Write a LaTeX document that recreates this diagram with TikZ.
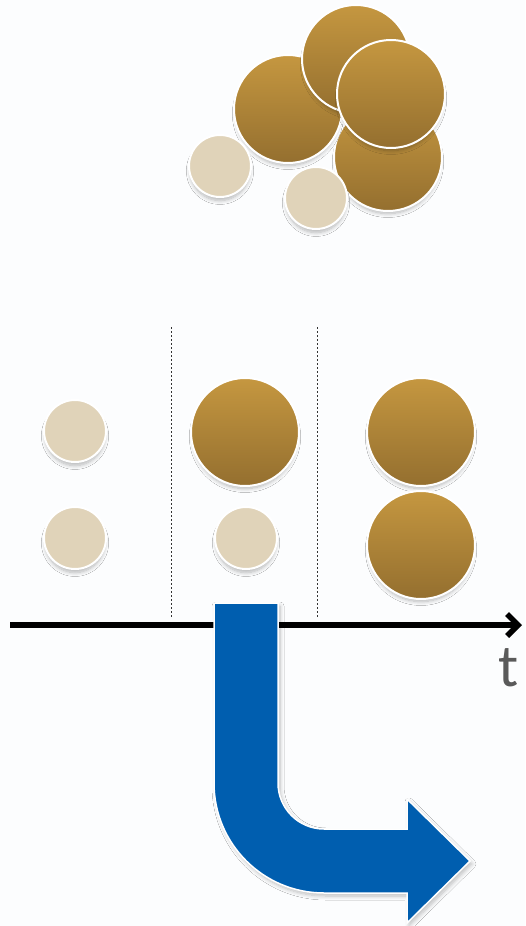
\documentclass[tikz,border=0pt]{standalone}
\usepackage{fontspec}
\setmainfont{Carlito}
\usetikzlibrary{arrows.meta,shadows.blur}

\definecolor{sand}{RGB}{224,211,185}
\definecolor{ochretop}{RGB}{197,151,64}
\definecolor{ochrebot}{RGB}{148,111,47}
\definecolor{flowblue}{RGB}{0,94,175}
\definecolor{labelgray}{RGB}{90,90,90}
\definecolor{paper}{RGB}{252,253,254}

\begin{document}
\begin{tikzpicture}[x=1pt,y=-1pt,
		ball/.style={circle,draw=white,line width=2pt,inner sep=0pt,
			blur shadow={shadow xshift=0pt,shadow yshift=-5pt,shadow scale=0.96,
				shadow blur radius=4pt,shadow blur steps=8,shadow opacity=28}},
		smallball/.style={ball,fill=sand,minimum size=62pt},
		bigball/.style={ball,top color=ochretop,bottom color=ochrebot,minimum size=108pt},
		divider/.style={dash pattern=on 2pt off 2pt,line width=0.8pt,black!80},
		timeaxis/.style={line width=5.5pt,-{Straight Barb[length=11pt,width=22pt]}}]

		\useasboundingbox (0,0) rectangle (525,926);
		\fill[paper] (0,0) rectangle (525,926);

		% the clump
		\node[bigball] (d) at (388,157) {};
		\node[bigball] (a) at (288,109) {};
		\node[bigball] (b) at (356,59)  {};
		\node[bigball] (c) at (391,94)  {};
		\node[smallball] (e) at (220,166) {};
		\node[smallball] (f) at (316,198) {};

		% three steps in time
		\node[smallball] (p1) at (75,431)  {};
		\node[smallball] (p2) at (75,538)  {};
		\node[bigball]   (q1) at (245,432) {};
		\node[smallball] (q2) at (246,538) {};
		\node[bigball]   (r1) at (421,432) {};
		\node[bigball]   (r2) at (421,545) {};

		\coordinate (s1top) at (171.5,327);
		\coordinate (s1bot) at (171.5,618);
		\coordinate (s2top) at (317.5,327);
		\coordinate (s2bot) at (317.5,618);
		\draw[divider] (s1top) -- (s1bot);
		\draw[divider] (s2top) -- (s2bot);

		\coordinate (t0) at (10,625);
		\coordinate (t1) at (522,625);
		\draw[timeaxis] (t0) -- (t1);
		\node[text=labelgray,font=\fontsize{60}{60}\selectfont,anchor=base,inner sep=0pt] (tlabel) at (509,686) {t};

		% bent arrow, quarter circles as Bezier curves
		\fill[flowblue,draw=white,line width=1.5pt,
			blur shadow={shadow xshift=2pt,shadow yshift=-3pt,shadow blur radius=4pt,
				shadow blur steps=8,shadow opacity=25}]
			(214,603) -- (214,783)
			.. controls (214,843.8) and (263.2,893) .. (324,893)
			-- (407,893) -- (407,923) -- (470,861) -- (407,799) -- (407,829)
			-- (324,829)
			.. controls (298.6,829) and (278,808.4) .. (278,783)
			-- (278,603) -- cycle;

\end{tikzpicture}
\end{document}
